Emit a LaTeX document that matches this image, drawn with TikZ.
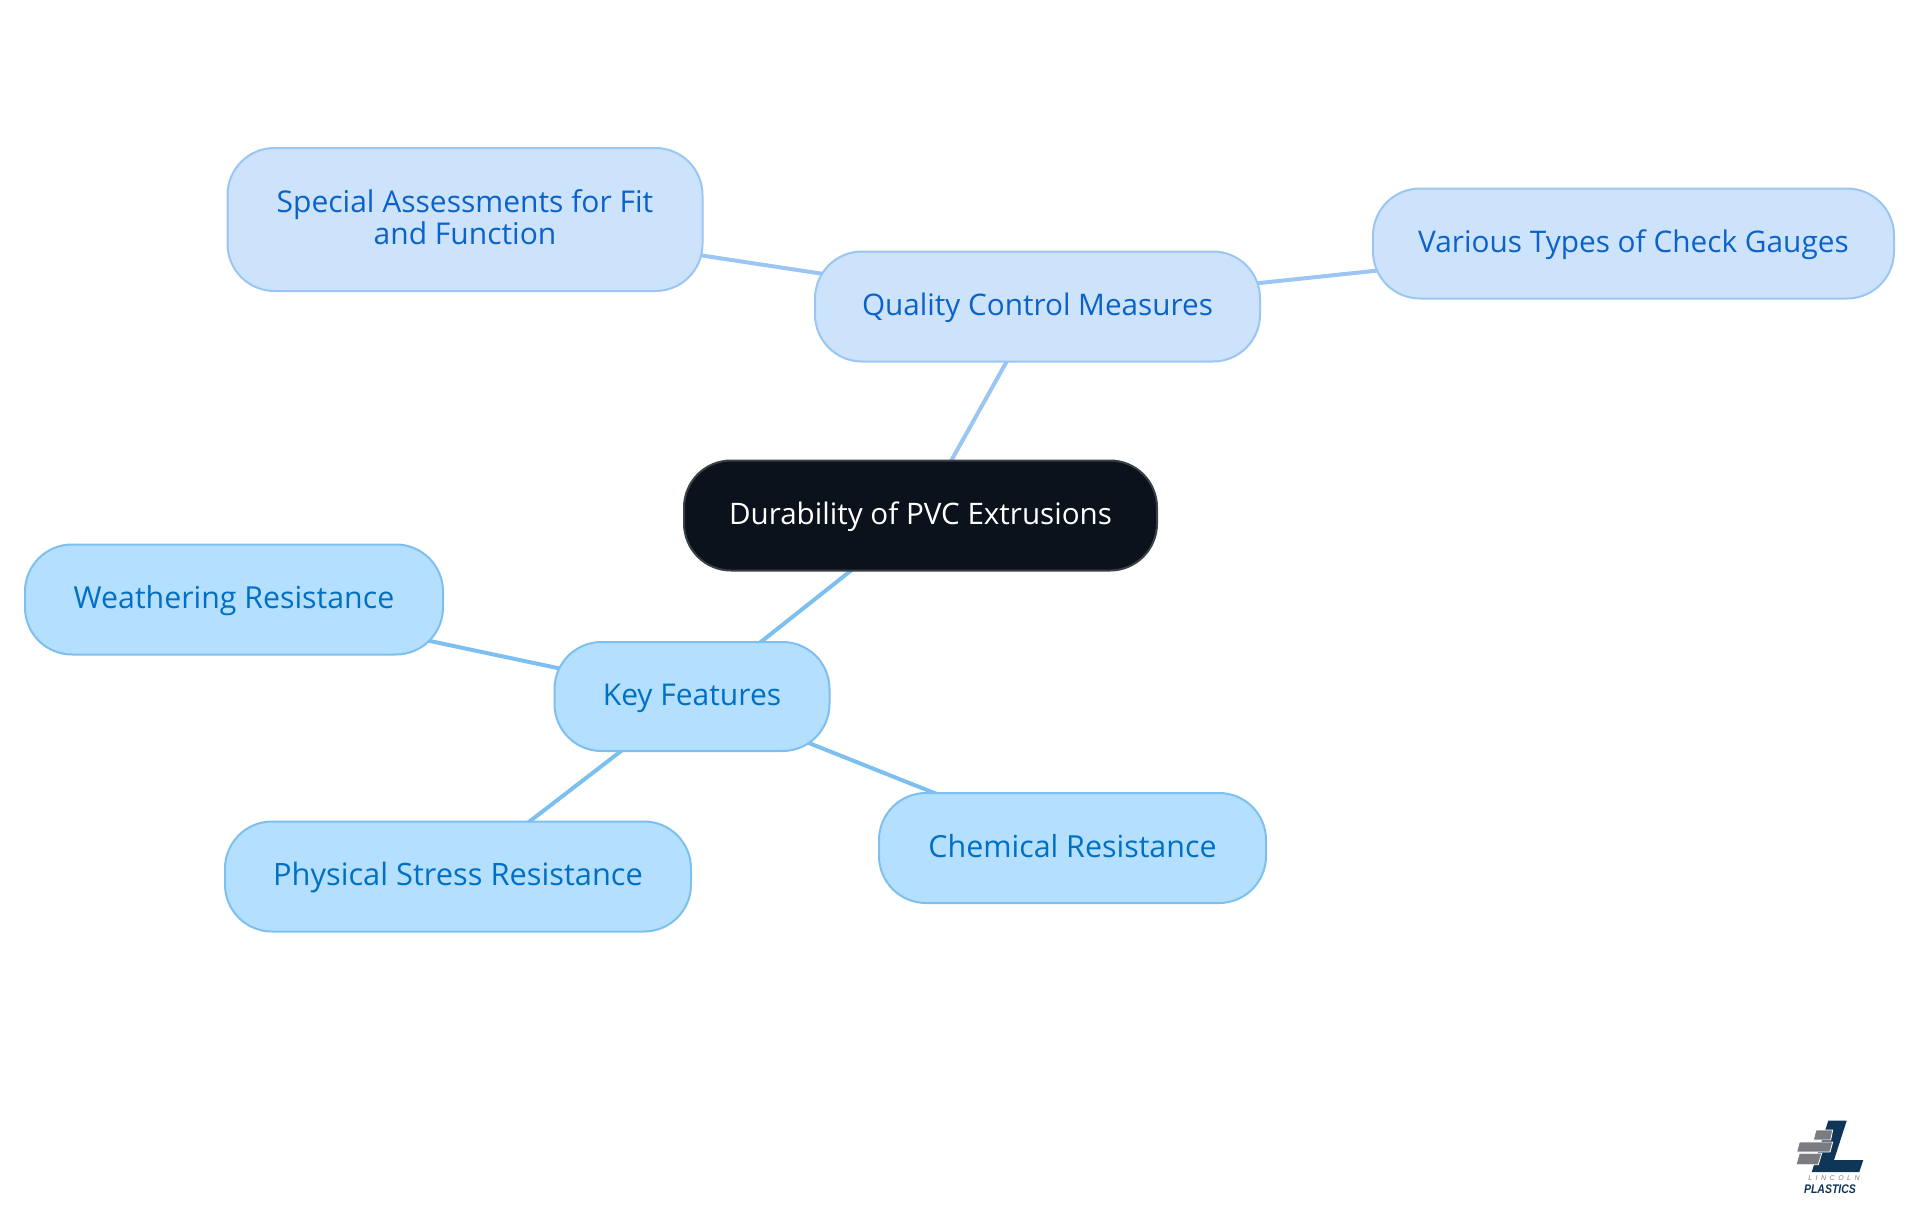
\documentclass[tikz,border=0pt]{standalone}
\usepackage{fontspec}
\setmainfont{Open Sans}
\newfontfamily\logofont{Liberation Sans}
\usetikzlibrary{backgrounds}
\definecolor{rootfill}{HTML}{0B121B}
\definecolor{rootline}{HTML}{3A4047}
\definecolor{qfill}{HTML}{CDE3FC}
\definecolor{qline}{HTML}{9BC5F2}
\definecolor{qtext}{HTML}{0B62C9}
\definecolor{kfill}{HTML}{B5DFFF}
\definecolor{kline}{HTML}{7DC0F0}
\definecolor{ktext}{HTML}{0070C4}
\definecolor{lognavy}{HTML}{0F3557}
\definecolor{loggray}{HTML}{7A7C80}
\tikzset{
 x=1pt,y=-1pt,
 box/.style={rounded corners=47pt,line width=2pt,align=center,inner sep=0pt,text height=22pt,text depth=3.6pt,font=\fontsize{30}{32.3}\selectfont},
 rootbox/.style={box,draw=rootline,fill=rootfill,text=white},
 qbox/.style={box,draw=qline,fill=qfill,text=qtext},
 kbox/.style={box,draw=kline,fill=kfill,text=ktext},
 qedge/.style={draw=qline,line width=4pt},
 kedge/.style={draw=kline,line width=4pt},
 logobar/.style={fill=loggray,draw=white,line width=.8pt},
}
\begin{document}
\begin{tikzpicture}
\useasboundingbox (0,0) rectangle (1920,1215);
\node[rootbox,minimum width=473pt,minimum height=110pt] (root) at (920.5,515.5) {\fontsize{29.6}{32.3}\selectfont Durability of PVC Extrusions};
\node[qbox,minimum width=445pt,minimum height=110pt] (qc) at (1037.5,306.5) {\fontsize{29.7}{32.3}\selectfont Quality Control Measures};
\node[qbox,minimum width=475pt,minimum height=143pt,text height=54.3pt] (sa) at (465,219.5) {Special Assessments for Fit\\and Function};
\node[qbox,minimum width=521pt,minimum height=110pt] (vt) at (1633.5,243.5) {\fontsize{29.8}{32.3}\selectfont Various Types of Check Gauges};
\node[kbox,minimum width=275pt,minimum height=109pt] (kf) at (692,696.5) {Key Features};
\node[kbox,minimum width=418pt,minimum height=110pt] (wr) at (234,599.5) {\fontsize{30.3}{32.3}\selectfont Weathering Resistance};
\node[kbox,minimum width=466pt,minimum height=110pt] (ps) at (458,876.5) {\fontsize{30.8}{32.3}\selectfont Physical Stress Resistance};
\node[kbox,minimum width=387pt,minimum height=110pt] (cr) at (1072.5,848) {\fontsize{30.4}{32.3}\selectfont Chemical Resistance};
\begin{pgfonlayer}{background}
\draw[qedge] (root.center) -- (qc.center);
\draw[qedge] (qc.center) -- (sa.center);
\draw[qedge] (qc.center) -- (vt.center);
\draw[kedge] (root.center) -- (kf.center);
\draw[kedge] (kf.center) -- (wr.center);
\draw[kedge] (kf.center) -- (ps.center);
\draw[kedge] (kf.center) -- (cr.center);
\end{pgfonlayer}
% logo
\fill[lognavy] (1828.3,1120.7) -- (1846.7,1120.7) -- (1834,1160) -- (1863.3,1160) -- (1859.3,1172) -- (1811.7,1172) -- cycle;
\filldraw[logobar] (1816,1130) -- (1832.7,1130) -- (1830.7,1140) -- (1813.3,1140) -- cycle;
\filldraw[logobar] (1799.3,1142) -- (1832.7,1142) -- (1830,1152) -- (1796.7,1152) -- cycle;
\filldraw[logobar] (1799.3,1153.3) -- (1821.7,1153.3) -- (1818.3,1164.7) -- (1796,1164.7) -- cycle;
\node[inner sep=0pt,text=loggray,font=\logofont\itshape\fontsize{7}{8}\selectfont] (lg1) at (1834,1178) {L\,\,\,I\,\,\,N\,\,\,C\,\,\,O\,\,\,L\,\,\,N};
\node[inner sep=0pt,text=lognavy,xscale=.84,font=\logofont\bfseries\itshape\fontsize{12.5}{13}\selectfont] (lg2) at (1830,1188.7) {PLASTICS};
\end{tikzpicture}
\end{document}
